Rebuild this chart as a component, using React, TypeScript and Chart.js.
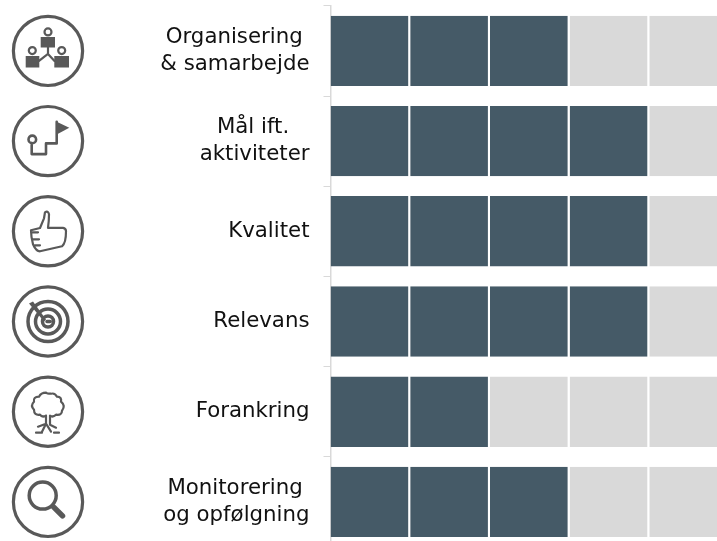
import React, { useEffect, useRef } from "react";
import { Chart, registerables } from "chart.js";

Chart.register(...registerables);

const categories: string[][] = [
  ["Organisering ", "& samarbejde"],
  ["Mål ift.   ", "aktiviteter"],
  ["Kvalitet"],
  ["Relevans"],
  ["Forankring"],
  ["Monitorering ", "og opfølgning"],
];
const scores = [3, 4, 4, 4, 2, 3];
const segments = [1, 2, 3, 4, 5];
const DARK = "#455a67";
const LIGHT = "#d9d9d9";
const ICON = "#595959";

const ICON_SOLID: string[] = [
  "M-7.300-14H7V-3.300H-7.300ZM-22.300 5H-8.700V16.700H-22.300ZM6.300 5H21V16.700H6.300Z",
  "M8.700-19.300L21.300-13.300L8.700-6.700Z",
  "",
  "M-19-18L-15-20L-2-2L-4 0Z",
  "",
  "",
];
const ICON_STROKE: string[] = [
  "M-3.500-19a3.500 3.500 0 1 0 7 0a3.500 3.500 0 1 0-7 0M-19.200-.3a3.500 3.500 0 1 0 7 0a3.500 3.500 0 1 0-7 0M10.200-.3a3.500 3.500 0 1 0 7 0a3.500 3.500 0 1 0-7 0M0-3.300V3L-9 10M0 3L6.500 10",
  "M8.700-19.300V2.300H-2V13H-16.300V2M-19.500-1.700a3.800 3.800 0 1 0 7.600 0a3.800 3.800 0 1 0-7.600 0",
  "M-8-3.300L-4-13L-3-19Q0-21 1-17Q1-10 0-3.500H15Q18-3 18 0Q18 12 14 15L-8 20Q-12 20-15 13Q-17 5-17-1Z M-17 1H-10M-15 8H-9M-13 14H-8",
  "M-5.500 0a5.500 5.500 0 1 0 11 0a5.500 5.500 0 1 0-11 0M-12.500 0a12.500 12.500 0 1 0 25 0a12.500 12.500 0 1 0-25 0M-20 0a20 20 0 1 0 40 0a20 20 0 1 0-40 0M-1 0H2",
  "M-2-19Q-1-18 3-18Q7-19 9-15Q14-15 13-10Q18-6 14-1Q14 4 8 3Q5 6 2 4V8M-2 4Q-6 6-8 3Q-14 4-14-2Q-18-6-14-10Q-15-15-9-15Q-7-19-2-19M-2 4V12L-10 15M2 8V13L8 16M-6 20L-2 12L3 20M-12 21H-6M6 21H11",
  "M-18.800-6.300a13.500 13.500 0 1 0 27 0a13.500 13.500 0 1 0-27 0",
];

const iconPlugin = {
  id: "icons",
  afterDraw(chart: any) {
    const ctx = chart.ctx;
    const y = chart.scales.y;
    categories.forEach((_, i) => {
      const cy = y.getPixelForTick(i);
      ctx.save();
      ctx.translate(48, cy);
      ctx.strokeStyle = ICON;
      ctx.fillStyle = ICON;
      ctx.lineWidth = 3.2;
      ctx.beginPath();
      ctx.arc(0, 0, 34.6, 0, Math.PI * 2);
      ctx.stroke();
      if (ICON_SOLID[i]) ctx.fill(new Path2D(ICON_SOLID[i]));
      ctx.lineWidth = i === 3 ? 3.5 : i === 5 ? 3.5 : i === 1 ? 2.6 : 2.2;
      ctx.lineJoin = "round";
      ctx.lineCap = "round";
      ctx.stroke(new Path2D(ICON_STROKE[i]));
      if (i === 5) {
        ctx.lineWidth = 5.5;
        ctx.stroke(new Path2D("M6 5.500L14.500 14"));
      }
      ctx.restore();
    });
  },
};

export default function App() {
  const ref = useRef<HTMLCanvasElement>(null);
  useEffect(() => {
    const chart = new Chart(ref.current!, {
      type: "bar",
      plugins: [iconPlugin],
      data: {
        labels: categories,
        datasets: segments.map((s) => ({
          label: String(s),
          data: categories.map(() => 1),
          backgroundColor: scores.map((v) => (v >= s ? DARK : LIGHT)),
          borderColor: "#ffffff",
          borderWidth: { right: 2 },
          borderSkipped: false,
          categoryPercentage: 1,
          barPercentage: 0.78,
        })),
      },
      options: {
        indexAxis: "y",
        responsive: false,
        animation: false,
        layout: { padding: { top: 5.8, bottom: 3, left: 0, right: 2 } },
        plugins: { legend: { display: false }, tooltip: { enabled: false } },
        scales: {
          x: { display: false, stacked: true, min: 0, max: 5 },
          y: {
            stacked: true,
            afterFit(s: any) {
              s.width = 330.5;
              s.paddingTop = 0;
              s.paddingBottom = 0;
            },
            border: { color: LIGHT, width: 1.5 },
            grid: { drawOnChartArea: false, color: LIGHT, tickLength: 7, tickWidth: 1 },
            ticks: {
              autoSkip: false,
              maxRotation: 0,
              minRotation: 0,
              padding: 14,
              color: "#111111",
              font: { family: "'DejaVu Sans'", size: 21.3, lineHeight: 1.28 },
            },
          },
        },
      },
    } as any);
    return () => chart.destroy();
  }, []);
  return (
    <div style={{ position: "fixed", left: 0, top: 0, width: 717, height: 541, overflow: "hidden", background: "#fff" }}>
      <canvas ref={ref} width={731} height={550} style={{ display: "block" }} />
    </div>
  );
}
